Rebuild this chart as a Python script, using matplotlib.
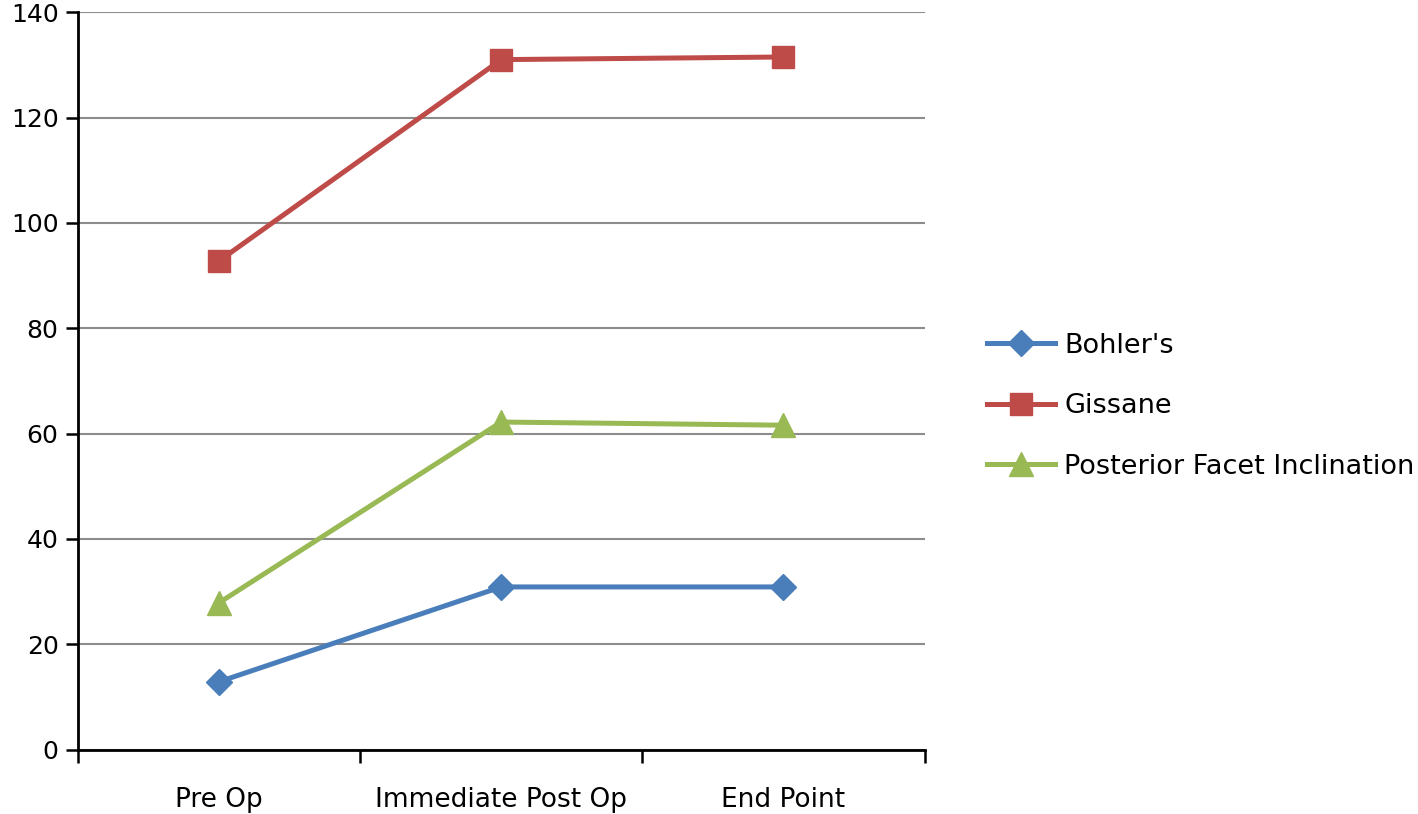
import matplotlib.pyplot as plt

plt.rcParams['font.family'] = 'DejaVu Sans'

# data
categories = ['Pre Op', 'Immediate Post Op', 'End Point']
bohler = [12.9, 30.9, 30.9]
gissane = [92.8, 131.0, 131.5]
pfi = [27.9, 62.2, 61.6]

series_names = ["Bohler's", 'Gissane', 'Posterior Facet Inclination']
colors = ['#4A7EBB', '#BE4B48', '#98B954']
markers = ['D', 's', '^']
msizes = [13, 16, 17]

fig = plt.figure(figsize=(14.18, 8.14), dpi=100)
ax = fig.add_axes([0.055, 0.079, 0.597, 0.906])

x = list(range(len(categories)))
for vals, name, c, m, ms in zip([bohler, gissane, pfi], series_names, colors, markers, msizes):
    ax.plot(x, vals, color=c, linewidth=3.6, marker=m, markersize=ms,
            markeredgecolor=c, label=name, zorder=3)

ax.set_xlim(-0.5, 2.5)
ax.set_ylim(0, 140)
ax.set_yticks(range(0, 141, 20))
ax.set_xticks(x)
ax.set_xticklabels(categories, fontsize=19)
ax.set_xticks([-0.5, 0.5, 1.5, 2.5], minor=True)
ax.tick_params(axis='x', which='major', length=0, pad=27)
ax.tick_params(axis='x', which='minor', length=9, width=1.8, direction='out')
ax.tick_params(axis='y', length=9, width=1.8, direction='out', labelsize=18, pad=5)

ax.yaxis.grid(True, color='#8c8c8c', linewidth=1.5)
ax.set_axisbelow(True)
for s in ['top', 'right']:
    ax.spines[s].set_visible(False)
ax.spines['left'].set_linewidth(2)
ax.spines['bottom'].set_linewidth(2)

fig.legend(loc='center left', bbox_to_anchor=(0.679, 0.501), frameon=False,
           fontsize=19.5, handlelength=2.5, labelspacing=1.28, handletextpad=0.35)

fig.savefig('out.png', dpi=100)
